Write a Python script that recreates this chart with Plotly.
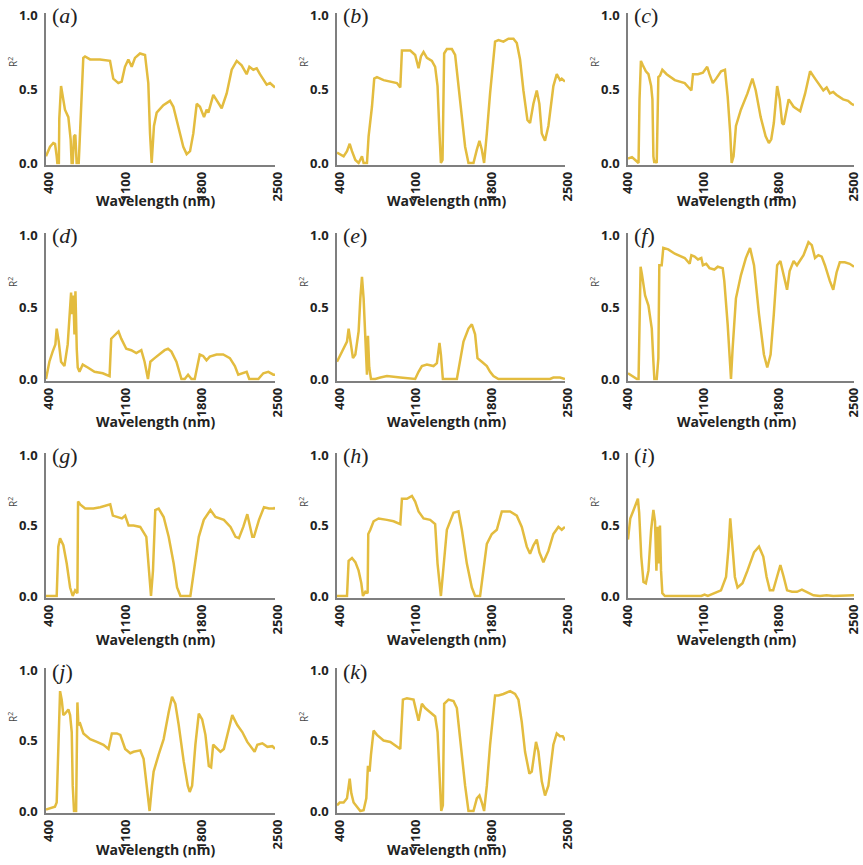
import plotly.graph_objects as go

# ---------------- data (wavelength nm, R^2) ----------------
wl_ticks = [400, 1100, 1800, 2500]
r2_ticks = [0.0, 0.5, 1.0]
panel_names = ["a", "b", "c", "d", "e", "f", "g", "h", "i", "j", "k"]

panel_a = [(400,0.045),(437,0.11),(467,0.135),(483,0.13),(498,0.045),(504,0.0),(518,0.0),(522,0.3),(538,0.52),(556,0.45),(574,0.36),(605,0.31),(626,0.16),(635,0.0),(645,0.0),(657,0.18),(669,0.19),(681,0.0),(700,0.0),(706,0.1),(727,0.43),(742,0.71),(758,0.72),(804,0.70),(895,0.70),(987,0.69),(1017,0.57),(1063,0.54),(1094,0.55),(1124,0.65),(1155,0.70),(1186,0.65),(1216,0.71),(1262,0.74),(1308,0.73),(1338,0.54),(1354,0.20),(1369,0.0),(1390,0.25),(1415,0.34),(1476,0.39),(1537,0.42),(1568,0.38),(1614,0.25),(1659,0.11),(1690,0.06),(1721,0.08),(1751,0.20),(1782,0.40),(1812,0.38),(1849,0.31),(1873,0.36),(1889,0.34),(1934,0.46),(1965,0.42),(2011,0.37),(2057,0.47),(2103,0.63),(2149,0.69),(2194,0.66),(2240,0.60),(2265,0.65),(2301,0.63),(2332,0.64),(2362,0.60),(2393,0.56),(2424,0.53),(2454,0.54),(2500,0.51)]

panel_b = [(400,0.07),(431,0.06),(461,0.045),(492,0.08),(517,0.13),(538,0.08),(569,0.02),(599,0.0),(630,0.045),(645,0.0),(676,0.0),(691,0.18),(722,0.38),(743,0.57),(768,0.58),(829,0.56),(891,0.55),(952,0.54),(983,0.51),(998,0.76),(1013,0.76),(1075,0.76),(1120,0.73),(1151,0.64),(1173,0.72),(1197,0.75),(1228,0.71),(1274,0.69),(1304,0.65),(1326,0.52),(1344,0.2),(1357,0.0),(1372,0.02),(1387,0.74),(1412,0.77),(1458,0.77),(1488,0.73),(1534,0.43),(1580,0.11),(1611,0.0),(1657,0.0),(1688,0.09),(1712,0.15),(1734,0.09),(1755,0.0),(1780,0.2),(1810,0.47),(1856,0.82),(1887,0.83),(1933,0.82),(1979,0.84),(2025,0.84),(2056,0.81),(2086,0.70),(2117,0.49),(2154,0.29),(2178,0.27),(2209,0.40),(2240,0.49),(2264,0.40),(2286,0.2),(2316,0.15),(2347,0.25),(2393,0.52),(2424,0.60),(2454,0.56),(2470,0.57),(2500,0.55)]

panel_c = [(400,0.03),(437,0.04),(467,0.02),(498,0.0),(507,0.43),(520,0.69),(538,0.66),(566,0.62),(590,0.60),(615,0.52),(627,0.43),(636,0.045),(645,0.0),(651,0.02),(667,0.0),(682,0.58),(697,0.59),(719,0.63),(759,0.60),(835,0.56),(927,0.54),(989,0.49),(1004,0.60),(1050,0.60),(1096,0.61),(1136,0.65),(1157,0.60),(1188,0.54),(1219,0.57),(1265,0.62),(1301,0.63),(1326,0.45),(1350,0.2),(1363,0.0),(1381,0.045),(1403,0.25),(1449,0.36),(1510,0.47),(1556,0.57),(1587,0.49),(1633,0.31),(1679,0.18),(1709,0.135),(1731,0.16),(1755,0.27),(1786,0.52),(1810,0.43),(1832,0.27),(1847,0.26),(1878,0.38),(1893,0.43),(1939,0.38),(2000,0.35),(2046,0.47),(2092,0.62),(2138,0.57),(2184,0.52),(2215,0.49),(2246,0.51),(2276,0.47),(2307,0.48),(2338,0.46),(2399,0.43),(2445,0.42),(2476,0.40),(2500,0.39)]

panel_d = [(400,0.0),(431,0.12),(461,0.19),(486,0.24),(498,0.35),(517,0.26),(538,0.12),(569,0.09),(599,0.24),(615,0.45),(630,0.60),(639,0.45),(651,0.58),(661,0.31),(670,0.61),(682,0.21),(691,0.08),(707,0.05),(737,0.10),(783,0.08),(845,0.05),(921,0.04),(983,0.02),(998,0.28),(1029,0.30),(1065,0.33),(1090,0.28),(1136,0.21),(1182,0.20),(1228,0.18),(1274,0.20),(1304,0.12),(1335,0.0),(1357,0.12),(1396,0.145),(1442,0.17),(1488,0.20),(1519,0.21),(1550,0.19),(1596,0.12),(1642,0.0),(1672,0.0),(1703,0.03),(1734,0.0),(1764,0.0),(1810,0.17),(1841,0.16),(1872,0.13),(1902,0.155),(1964,0.17),(2025,0.17),(2086,0.145),(2132,0.09),(2163,0.03),(2194,0.04),(2240,0.05),(2264,0.0),(2301,0.0),(2347,0.0),(2393,0.04),(2439,0.05),(2485,0.03),(2500,0.03)]

panel_e = [(400,0.12),(431,0.17),(461,0.21),(492,0.26),(507,0.35),(523,0.26),(547,0.145),(569,0.17),(599,0.33),(615,0.56),(630,0.71),(645,0.56),(661,0.21),(676,0.03),(685,0.30),(697,0.08),(713,0.0),(753,0.0),(799,0.01),(860,0.02),(983,0.01),(1075,0.0),(1120,0.0),(1151,0.05),(1182,0.09),(1228,0.10),(1289,0.09),(1320,0.11),(1344,0.25),(1357,0.17),(1375,0.0),(1504,0.0),(1528,0.10),(1565,0.26),(1611,0.35),(1642,0.38),(1672,0.31),(1694,0.145),(1734,0.12),(1780,0.09),(1810,0.05),(1841,0.02),(1887,0.0),(1964,0.0),(2056,0.0),(2362,0.0),(2393,0.01),(2454,0.01),(2500,0.0)]

panel_f = [(400,0.04),(437,0.02),(483,0.0),(498,0.0),(507,0.56),(517,0.78),(529,0.73),(559,0.58),(590,0.51),(621,0.35),(636,0.12),(645,0.0),(667,0.0),(682,0.145),(691,0.79),(713,0.79),(728,0.91),(774,0.90),(835,0.87),(927,0.84),(973,0.80),(989,0.86),(1019,0.85),(1050,0.83),(1081,0.84),(1096,0.79),(1127,0.80),(1157,0.77),(1203,0.76),(1234,0.78),(1280,0.77),(1295,0.68),(1326,0.38),(1357,0.0),(1372,0.21),(1403,0.56),(1449,0.72),(1495,0.84),(1534,0.91),(1571,0.79),(1617,0.45),(1663,0.17),(1694,0.08),(1725,0.17),(1755,0.45),(1786,0.79),(1816,0.82),(1847,0.73),(1878,0.62),(1902,0.75),(1939,0.82),(1970,0.79),(2031,0.86),(2077,0.95),(2108,0.93),(2138,0.84),(2169,0.86),(2200,0.85),(2230,0.79),(2276,0.68),(2307,0.62),(2338,0.74),(2368,0.81),(2414,0.81),(2460,0.80),(2500,0.78)]

panel_g = [(400,0.0),(498,0.0),(513,0.35),(529,0.41),(559,0.36),(590,0.23),(621,0.06),(645,0.0),(667,0.04),(688,0.02),(694,0.67),(713,0.65),(759,0.62),(835,0.62),(897,0.63),(989,0.65),(1013,0.57),(1050,0.56),(1096,0.55),(1126,0.57),(1157,0.50),(1203,0.50),(1264,0.49),(1320,0.42),(1341,0.18),(1363,0.0),(1381,0.18),(1402,0.61),(1433,0.62),(1479,0.56),(1525,0.42),(1571,0.23),(1602,0.06),(1633,0.0),(1724,0.0),(1755,0.16),(1801,0.42),(1847,0.54),(1908,0.61),(1954,0.56),(2031,0.54),(2092,0.49),(2138,0.42),(2169,0.41),(2209,0.49),(2246,0.58),(2292,0.42),(2307,0.42),(2353,0.54),(2399,0.63),(2445,0.62),(2491,0.62),(2500,0.63)]

panel_h = [(400,0.0),(492,0.0),(507,0.25),(538,0.27),(569,0.24),(599,0.18),(624,0.09),(639,0.0),(661,0.03),(682,0.02),(688,0.44),(707,0.47),(737,0.53),(783,0.55),(860,0.54),(921,0.53),(983,0.51),(998,0.69),(1044,0.69),(1090,0.71),(1120,0.67),(1151,0.60),(1197,0.55),(1258,0.54),(1304,0.51),(1326,0.23),(1357,0.0),(1381,0.23),(1412,0.47),(1473,0.59),(1519,0.60),(1550,0.47),(1596,0.23),(1642,0.06),(1672,0.0),(1718,0.0),(1749,0.18),(1780,0.37),(1826,0.44),(1872,0.47),(1918,0.60),(1994,0.60),(2056,0.57),(2102,0.49),(2148,0.35),(2178,0.30),(2209,0.36),(2240,0.40),(2264,0.31),(2301,0.24),(2347,0.32),(2393,0.44),(2439,0.49),(2470,0.47),(2500,0.49)]

panel_i = [(400,0.40),(421,0.55),(452,0.61),(492,0.69),(504,0.59),(523,0.28),(544,0.10),(566,0.09),(590,0.18),(615,0.47),(636,0.61),(651,0.53),(664,0.18),(676,0.49),(688,0.23),(697,0.50),(707,0.18),(719,0.02),(743,0.0),(835,0.0),(1019,0.0),(1081,0.0),(1111,0.01),(1142,0.0),(1203,0.02),(1264,0.04),(1311,0.135),(1335,0.35),(1350,0.55),(1372,0.35),(1393,0.135),(1418,0.06),(1464,0.09),(1510,0.18),(1571,0.31),(1617,0.35),(1657,0.28),(1688,0.135),(1718,0.04),(1749,0.04),(1786,0.135),(1816,0.22),(1847,0.135),(1878,0.04),(1924,0.03),(1970,0.03),(2016,0.045),(2062,0.03),(2123,0.005),(2184,0.0),(2246,0.005),(2307,0.0),(2430,0.0),(2500,0.005)]

panel_j = [(400,0.01),(437,0.02),(482,0.03),(498,0.06),(513,0.47),(529,0.85),(544,0.79),(559,0.68),(575,0.69),(605,0.72),(621,0.68),(636,0.56),(645,0.18),(657,0.0),(676,0.0),(688,0.77),(697,0.61),(713,0.62),(743,0.55),(805,0.51),(866,0.49),(927,0.47),(973,0.44),(1004,0.55),(1050,0.55),(1081,0.54),(1126,0.44),(1173,0.41),(1203,0.42),(1264,0.43),(1295,0.37),(1326,0.18),(1350,0.0),(1372,0.18),(1387,0.28),(1433,0.40),(1479,0.51),(1525,0.70),(1556,0.81),(1586,0.76),(1617,0.61),(1663,0.35),(1700,0.18),(1718,0.135),(1740,0.18),(1770,0.47),(1801,0.69),(1832,0.65),(1862,0.54),(1893,0.32),(1914,0.31),(1933,0.47),(1970,0.44),(2000,0.42),(2031,0.44),(2077,0.59),(2108,0.68),(2154,0.61),(2200,0.56),(2246,0.49),(2292,0.44),(2313,0.42),(2338,0.47),(2384,0.48),(2430,0.455),(2476,0.46),(2500,0.44)]

panel_k = [(400,0.04),(425,0.06),(461,0.06),(492,0.09),(517,0.23),(532,0.125),(553,0.06),(584,0.03),(615,0.0),(645,0.005),(670,0.09),(685,0.32),(700,0.28),(713,0.40),(737,0.57),(768,0.54),(829,0.50),(891,0.49),(952,0.455),(983,0.44),(1007,0.79),(1044,0.80),(1105,0.79),(1151,0.64),(1182,0.76),(1212,0.73),(1258,0.70),(1304,0.67),(1326,0.56),(1344,0.23),(1360,0.0),(1375,0.04),(1387,0.76),(1427,0.79),(1473,0.78),(1504,0.73),(1534,0.51),(1580,0.18),(1611,0.0),(1657,0.0),(1688,0.09),(1712,0.11),(1734,0.06),(1755,0.0),(1780,0.18),(1810,0.47),(1856,0.82),(1887,0.82),(1933,0.83),(1994,0.85),(2040,0.83),(2071,0.79),(2102,0.63),(2132,0.42),(2172,0.265),(2194,0.28),(2233,0.49),(2255,0.42),(2286,0.21),(2316,0.11),(2347,0.18),(2393,0.47),(2424,0.55),(2454,0.53),(2479,0.53),(2500,0.50)]

panels = [panel_a, panel_b, panel_c, panel_d, panel_e, panel_f,
          panel_g, panel_h, panel_i, panel_j, panel_k]

# ---------------- layout geometry (pixels) ----------------
W, H = 863, 865
col_px = [(46, 275), (337, 565), (628, 854)]          # x of 400 nm, x of 2500 nm
col_shift = [3, 3, 0]
row_px = [(15, 163), (235, 379), (455, 596), (670, 811)]  # y of R2=1, y of R2=0
title_py = [200, 421, 639, 849]
LINE = "#E3BC3F"
AXIS = "#7f7f7f"
TXT = "#222222"
Y_LO, Y_HI = -0.012, 1.015

fig = go.Figure()
annotations = []
for i, (name, pts) in enumerate(zip(panel_names, panels)):
    r, c = divmod(i, 3)
    x0, x1 = col_px[c]
    y1p, y0p = row_px[r]
    ppu = y0p - y1p
    bot = y0p + (0 - Y_LO) * ppu
    top = y1p - (Y_HI - 1) * ppu
    n = "" if i == 0 else str(i + 1)
    wl = [p[0] for p in pts]
    r2 = [p[1] for p in pts]
    fig.add_trace(go.Scatter(x=wl, y=r2, mode="lines",
                             line=dict(color=LINE, width=2.5),
                             xaxis="x" + n, yaxis="y" + n, showlegend=False,
                             hoverinfo="skip"))
    fig.layout["xaxis" + n] = dict(
        domain=[x0 / W, x1 / W], range=[400, 2500], anchor="y" + n,
        automargin=False, ticklabeloverflow="allow",
        showline=True, linecolor=AXIS, linewidth=1.6, showgrid=False,
        zeroline=False, ticks="", tickmode="array", tickvals=wl_ticks,
        ticktext=[str(v) for v in wl_ticks], tickangle=-90,
        ticklabelshift=col_shift[c],
        tickfont=dict(family="Open Sans", size=13, color=TXT, weight="bold"))
    fig.layout["yaxis" + n] = dict(
        domain=[1 - bot / H, 1 - top / H], range=[Y_LO, Y_HI], anchor="x" + n,
        automargin=False,
        showline=True, linecolor=AXIS, linewidth=1.6, showgrid=False,
        zeroline=False, ticks="", tickmode="array", tickvals=r2_ticks,
        ticktext=["0.0", "0.5", "1.0"], ticklabelstandoff=4,
        tickfont=dict(family="Open Sans", size=13, color=TXT, weight="bold"))
    # panel label
    annotations.append(dict(
        text="(<i>%s</i>)" % name, xref="paper", yref="paper",
        x=(x0 + 4) / W, y=1 - (y1p + 1) / H, xanchor="left", yanchor="middle",
        showarrow=False,
        font=dict(family="Liberation Serif", size=22, color=TXT)))
    # R^2 label
    annotations.append(dict(
        text="R<sup>2</sup>", xref="paper", yref="paper",
        x=(x0 - 33) / W, y=1 - (y1p + 47) / H, xanchor="center", yanchor="middle",
        textangle=-90, showarrow=False,
        font=dict(family="Open Sans", size=10, color="#444444")))
    # x-axis title
    annotations.append(dict(
        text="Wavelength (nm)", xref="paper", yref="paper",
        x=((x0 + x1) / 2 - 5) / W, y=1 - title_py[r] / H,
        xanchor="center", yanchor="middle", showarrow=False,
        font=dict(family="Open Sans", size=14, color=TXT, weight="bold")))

fig.update_layout(width=W, height=H, margin=dict(l=0, r=0, t=0, b=0, autoexpand=False),
                  paper_bgcolor="white", plot_bgcolor="white",
                  annotations=annotations)
fig.write_html("out.html", config={"displayModeBar": False},
               post_script="document.body.style.margin='0';document.body.style.overflow='hidden';")
